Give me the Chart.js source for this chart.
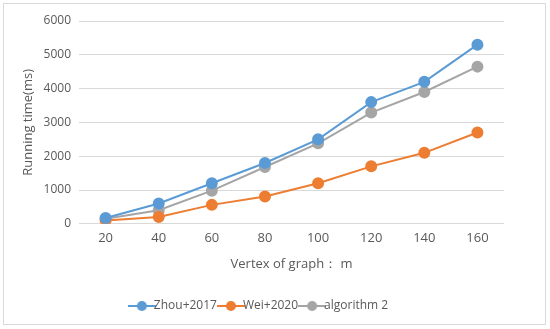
<!DOCTYPE html>
<html><head><meta charset="utf-8">
<script src="https://cdn.jsdelivr.net/npm/chart.js@4"></script>
<style>html,body{margin:0;padding:0;background:#fff}#wrap{position:relative;width:550px;height:329px}</style>
</head><body><div id="wrap"><canvas id="c" width="550" height="329"></canvas></div>
<script>
const categories = ["20","40","60","80","100","120","140","160"];
const zhou2017 = [170, 600, 1200, 1800, 2500, 3600, 4200, 5300];
const wei2020 = [100, 200, 560, 810, 1200, 1700, 2100, 2700];
const algorithm2 = [150, 400, 980, 1680, 2380, 3290, 3900, 4650];
const seriesNames = ["Zhou+2017", "Wei+2020", "algorithm 2"];
const colors = ["#5B9BD5", "#ED7D31", "#A5A5A5"];

function legendIcon(color){
  const cv = document.createElement('canvas');
  cv.width = 28; cv.height = 12;
  const g = cv.getContext('2d');
  g.strokeStyle = color; g.lineWidth = 2;
  g.beginPath(); g.moveTo(0,6); g.lineTo(28,6); g.stroke();
  g.fillStyle = color; g.beginPath(); g.arc(14,6,5,0,Math.PI*2); g.fill();
  return cv;
}
const icons = colors.map(legendIcon);

const borderPlugin = {
  id:'border',
  beforeDraw(chart){
    const ctx = chart.ctx;
    ctx.save();
    ctx.fillStyle = '#fff'; ctx.fillRect(0,0,chart.width,chart.height);
    ctx.strokeStyle = '#d9d9d9'; ctx.lineWidth = 1;
    ctx.strokeRect(3.5,3.5,542,321);
    ctx.restore();
  }
};

const mk = (i, data) => ({
  label: seriesNames[i], data, borderColor: colors[i], backgroundColor: colors[i],
  pointBackgroundColor: colors[i], pointBorderColor: colors[i],
  pointRadius: 5, pointHoverRadius: 5, borderWidth: 2, tension: 0, fill: false
});

new Chart(document.getElementById('c'), {
  type: 'line',
  data: { labels: categories, datasets: [mk(0, zhou2017), mk(1, wei2020), mk(2, algorithm2)] },
  options: {
    responsive: false, animation: false, devicePixelRatio: 1,
    layout: { padding: { left: 20, right: 46, top: 21, bottom: 7 } },
    plugins: {
      legend: {
        position: 'bottom',
        labels: {
          font: { family: 'Open Sans', size: 12 }, color: '#595959',
          usePointStyle: true, boxWidth: 28, boxHeight: 12, padding: 8,
          generateLabels(chart){
            return chart.data.datasets.map((d,i)=>({
              text: d.label, pointStyle: icons[i], fillStyle: colors[i], strokeStyle: colors[i],
              lineWidth: 0, hidden: false, datasetIndex: i, fontColor: '#595959'
            }));
          }
        }
      },
      tooltip: { enabled: false }
    },
    scales: {
      x: {
        offset: true,
        grid: { display: false, drawTicks: false },
        border: { display: false },
        ticks: { font: { family: 'Open Sans', size: 13 }, color: '#595959', padding: 7 },
        title: { display: true, text: 'Vertex of graph： m', font: { family: 'Open Sans', size: 13 }, color: '#595959', padding: { top: 3, bottom: 20 } }
      },
      y: {
        min: 0, max: 6000,
        grid: { color: '#d9d9d9', drawTicks: false, lineWidth: 1 },
        border: { display: false },
        ticks: { stepSize: 1000, font: { family: 'Open Sans', size: 12 }, color: '#595959', padding: 8, callback: v => String(v) },
        title: { display: true, text: 'Running time(ms)', font: { family: 'Open Sans', size: 13 }, color: '#595959', padding: { top: 0, bottom: 0 } }
      }
    }
  },
  plugins: [borderPlugin]
});
</script></body></html>
